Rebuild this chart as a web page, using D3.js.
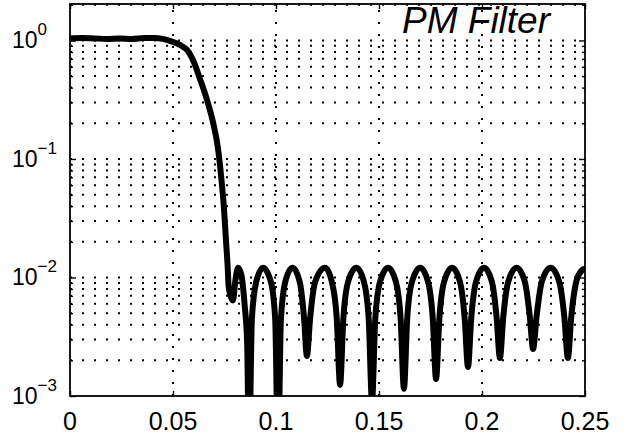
<!DOCTYPE html>
<html>
<head>
  <meta charset="UTF-8">
  <title>PM Filter</title>
  <script src="https://d3js.org/d3.v7.min.js"></script>
  <style>
    body { margin: 0; background: #fff; }
    svg { font-family: "Liberation Sans", Arial, sans-serif; }
    .grid line { stroke: #000; stroke-width: 2; stroke-dasharray: 2 10; }
    .axis path { display: none; }
    .axis line { stroke: #000; stroke-width: 1.4; }
    .curve { fill: none; stroke: #000; stroke-width: 6; stroke-linejoin: round; stroke-linecap: round; }
  </style>
</head>
<body>
<svg width="626" height="438"></svg>
<script>
// normalized frequency and magnitude
const freq = [
  0, 0.006, 0.012, 0.018, 0.024, 0.030, 0.036, 0.041, 0.045,
  0.0485, 0.0534, 0.0568, 0.0597, 0.0631, 0.0665, 0.0694, 0.0718, 0.0733, 0.0748, 0.0757, 0.0765,
  0.0770, 0.0779, 0.0791, 0.0803, 0.0816, 0.0832, 0.0848, 0.0860, 0.0869,
  0.0883, 0.0904, 0.0937, 0.0975, 0.0996, 0.1010,
  0.1024, 0.1045, 0.1080, 0.1115, 0.1136, 0.1150,
  0.1166, 0.1190, 0.1238, 0.1271, 0.1295, 0.1311,
  0.1327, 0.1350, 0.1390, 0.1427, 0.1450, 0.1466,
  0.1482, 0.1505, 0.1544, 0.1582, 0.1605, 0.1621,
  0.1637, 0.1660, 0.1700, 0.1738, 0.1761, 0.1777,
  0.1793, 0.1816, 0.1855, 0.1893, 0.1916, 0.1932,
  0.1948, 0.1971, 0.2010, 0.2048, 0.2071, 0.2087,
  0.2103, 0.2127, 0.2168, 0.2208, 0.2232, 0.2248,
  0.2265, 0.2290, 0.2333, 0.2375, 0.2400, 0.2417,
  0.2433, 0.2458, 0.2485, 0.2500
];
const mag = [
  1.04, 1.05, 1.04, 1.03, 1.04, 1.03, 1.05, 1.05, 1.03,
  0.99, 0.916, 0.831, 0.684, 0.473, 0.315, 0.205, 0.124, 0.0733, 0.0371, 0.0207, 0.0127,
  0.0085, 0.0070, 0.0064, 0.0095, 0.0121, 0.0105, 0.0058, 0.0028, 0.0003,
  0.0045, 0.0092, 0.0121, 0.0092, 0.0045, 0.0003,
  0.0045, 0.0092, 0.0121, 0.0092, 0.0046, 0.00218,
  0.0046, 0.0092, 0.0121, 0.0092, 0.0045, 0.00124,
  0.0045, 0.0092, 0.0121, 0.0092, 0.0045, 0.0009,
  0.0045, 0.0092, 0.0121, 0.0092, 0.0045, 0.00115,
  0.0045, 0.0092, 0.0121, 0.0092, 0.0045, 0.00139,
  0.0045, 0.0092, 0.0121, 0.0092, 0.0045, 0.00176,
  0.0046, 0.0092, 0.0121, 0.0092, 0.0046, 0.00209,
  0.0046, 0.0092, 0.0121, 0.0092, 0.0047, 0.00249,
  0.0047, 0.0092, 0.0121, 0.0092, 0.0046, 0.00209,
  0.0046, 0.0093, 0.0115, 0.0119
];

const xTicks = [0, 0.05, 0.1, 0.15, 0.2, 0.25];
const xTickLabels = ["0", "0.05", "0.1", "0.15", "0.2", "0.25"];
const yExponents = [0, -1, -2, -3];
const title = "PM Filter";

const pLeft = 70, pRight = 585, pTop = 4, pBottom = 396;

const x = d3.scaleLinear().domain([0, 0.25]).range([pLeft, pRight]);
const y = d3.scaleLog().domain([1e-3, 2.03]).range([pBottom, pTop]);

const svg = d3.select("svg");

svg.append("clipPath").attr("id", "plot")
  .append("rect")
  .attr("x", pLeft).attr("y", pTop)
  .attr("width", pRight - pLeft).attr("height", pBottom - pTop);

// minor + major log values for horizontal grid
const yGridVals = [];
yExponents.forEach(e => {
  for (let m = 1; m <= 9; m++) {
    const v = m * Math.pow(10, e);
    if (v > 1e-3 && v < 2.03) yGridVals.push(v);
  }
});

const grid = svg.append("g").attr("class", "grid");
grid.selectAll(".h")
  .data(yGridVals)
  .enter().append("line")
  .attr("x1", pLeft).attr("x2", pRight)
  .attr("y1", d => y(d)).attr("y2", d => y(d));
grid.selectAll(".v")
  .data(xTicks.slice(1, -1))
  .enter().append("line")
  .attr("y1", pBottom).attr("y2", pTop)
  .attr("x1", d => x(d)).attr("x2", d => x(d));

// ticks, pointing inward on all four sides
svg.append("g").attr("class", "axis")
  .attr("transform", `translate(0,${pBottom})`)
  .call(d3.axisBottom(x).tickValues(xTicks).tickSize(-5).tickFormat(""));
svg.append("g").attr("class", "axis")
  .attr("transform", `translate(0,${pTop})`)
  .call(d3.axisTop(x).tickValues(xTicks).tickSize(-5).tickFormat(""));

const yMajor = yExponents.map(e => Math.pow(10, e));
const yMinor = yGridVals.filter(v => !yMajor.includes(v));
[pLeft, pRight].forEach((px, i) => {
  const mk = i === 0 ? d3.axisLeft : d3.axisRight;
  svg.append("g").attr("class", "axis")
    .attr("transform", `translate(${px},0)`)
    .call(mk(y).tickValues(yMajor).tickSize(-6).tickFormat(""));
  svg.append("g").attr("class", "axis")
    .attr("transform", `translate(${px},0)`)
    .call(mk(y).tickValues(yMinor).tickSize(-3).tickFormat(""));
});

// curve
const line = d3.line()
  .x(d => x(d[0]))
  .y(d => y(d[1]))
  .curve(d3.curveMonotoneX);

svg.append("path")
  .attr("class", "curve")
  .attr("clip-path", "url(#plot)")
  .attr("d", line(d3.zip(freq, mag)));

// box
svg.append("rect")
  .attr("x", pLeft).attr("y", pTop)
  .attr("width", pRight - pLeft).attr("height", pBottom - pTop)
  .attr("fill", "none").attr("stroke", "#000").attr("stroke-width", 1.8);

// x labels
svg.selectAll(".xl")
  .data(xTicks)
  .enter().append("text")
  .attr("x", d => x(d))
  .attr("y", 430)
  .attr("text-anchor", "middle")
  .attr("font-size", 25)
  .text((d, i) => xTickLabels[i]);

// y labels 10^e
const yl = svg.selectAll(".yl")
  .data(yExponents)
  .enter().append("text")
  .attr("x", 12)
  .attr("y", d => y(Math.pow(10, d)) + 8)
  .attr("font-size", 23);
yl.append("tspan").text("10");
yl.append("tspan")
  .attr("dy", -13)
  .attr("font-size", 17)
  .text(d => d === 0 ? "0" : "\u2212" + Math.abs(d));

svg.append("text")
  .attr("x", 402)
  .attr("y", 33)
  .attr("font-size", 37)
  .attr("font-style", "italic")
  .text(title);
</script>
</body>
</html>
